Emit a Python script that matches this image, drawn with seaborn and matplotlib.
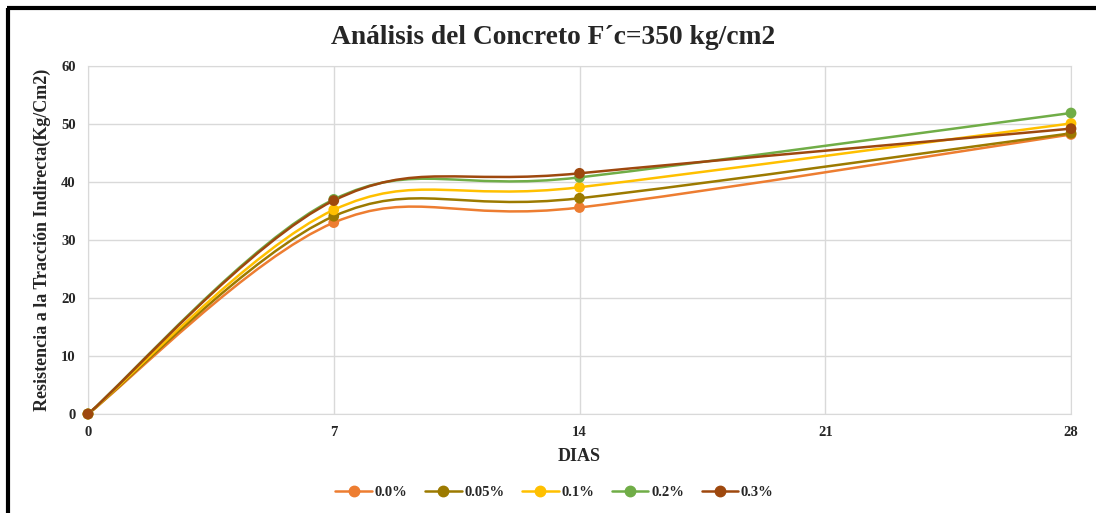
import numpy as np
import pandas as pd
import matplotlib.pyplot as plt
import seaborn as sns
from matplotlib.path import Path
from matplotlib.patches import PathPatch
from matplotlib.lines import Line2D

# data
dias = [0, 7, 14, 28]
r_00 = [0, 33.0, 35.6, 48.2]
r_005 = [0, 34.1, 37.2, 48.4]
r_01 = [0, 35.2, 39.1, 50.1]
r_02 = [0, 37.0, 40.8, 51.9]
r_03 = [0, 36.8, 41.5, 49.2]

series = ['0.0%', '0.05%', '0.1%', '0.2%', '0.3%']
colors = ['#ED7D31', '#9C7A00', '#FFC000', '#70AD47', '#9E480E']

df = pd.DataFrame({
    'dias': dias * 5,
    'res': r_00 + r_005 + r_01 + r_02 + r_03,
    'serie': [s for s in series for _ in dias],
})

sns.set_style('white')
plt.rcParams['font.family'] = ['Liberation Serif', 'DejaVu Serif']
plt.rcParams['font.weight'] = 'bold'


def smooth_path(xs, ys):
    # Excel-style smoothed line: cubic bezier with catmull-rom control points
    pts = np.column_stack([xs, ys]).astype(float)
    n = len(pts)
    verts = [pts[0]]
    codes = [Path.MOVETO]
    for i in range(n - 1):
        p_prev = pts[i - 1] if i > 0 else pts[i]
        p_next2 = pts[i + 2] if i + 2 < n else pts[i + 1]
        c1 = pts[i] + (pts[i + 1] - p_prev) / 6
        c2 = pts[i + 1] - (p_next2 - pts[i]) / 6
        verts += [c1, c2, pts[i + 1]]
        codes += [Path.CURVE4] * 3
    return Path(verts, codes)


fig = plt.figure(figsize=(10.96, 5.13), dpi=100)
ax = fig.add_axes([0.0803, 0.193, 0.8969, 0.6783])

for s, c in zip(series, colors):
    sub = df[df['serie'] == s]
    patch = PathPatch(smooth_path(sub['dias'], sub['res']), facecolor='none',
                      edgecolor=c, lw=1.8, zorder=3)
    ax.add_patch(patch)
    sns.scatterplot(data=sub, x='dias', y='res', color=c, s=60,
                    edgecolor='none', ax=ax, zorder=4, legend=False,
                    clip_on=False)

ax.set_xlim(0, 28)
ax.set_ylim(0, 60)
ax.set_xticks([0, 7, 14, 21, 28])
ax.set_yticks(range(0, 61, 10))
ax.grid(True, color='#d9d9d9', lw=1)
for sp in ax.spines.values():
    sp.set_color('#d9d9d9')
ax.tick_params(length=0, labelsize=10.5, pad=9)
for lab in ax.get_xticklabels() + ax.get_yticklabels():
    lab.set_fontweight('bold')

ax.set_xlabel('DIAS', fontsize=13, fontweight='bold', labelpad=6)
ax.set_ylabel('Resistencia a la Tracción Indirecta(Kg/Cm2)', fontsize=13,
              fontweight='bold', labelpad=7)
fig.text(0.505, 0.927, 'Análisis del Concreto F´c=350 kg/cm2', ha='center',
         va='center', fontsize=19.8, fontweight='bold')

handles = [Line2D([0], [0], color=c, lw=1.8, marker='o', markersize=7.5)
           for c in colors]
fig.legend(handles, series, loc='center', bbox_to_anchor=(0.506, 0.04),
           ncol=5, frameon=False, handlelength=2.5,
           columnspacing=1.2, handletextpad=0.2,
           prop={'weight': 'bold', 'size': 10.5})

# black frame on the left and top edges
fig.add_artist(Line2D([0.0074, 0.0074], [0, 0.9835], color='black', lw=3,
                      solid_capstyle='butt', transform=fig.transFigure))
fig.add_artist(Line2D([0.006, 1], [0.9835, 0.9835], color='black', lw=3,
                      solid_capstyle='butt', transform=fig.transFigure))

fig.savefig('out.png', dpi=100)
